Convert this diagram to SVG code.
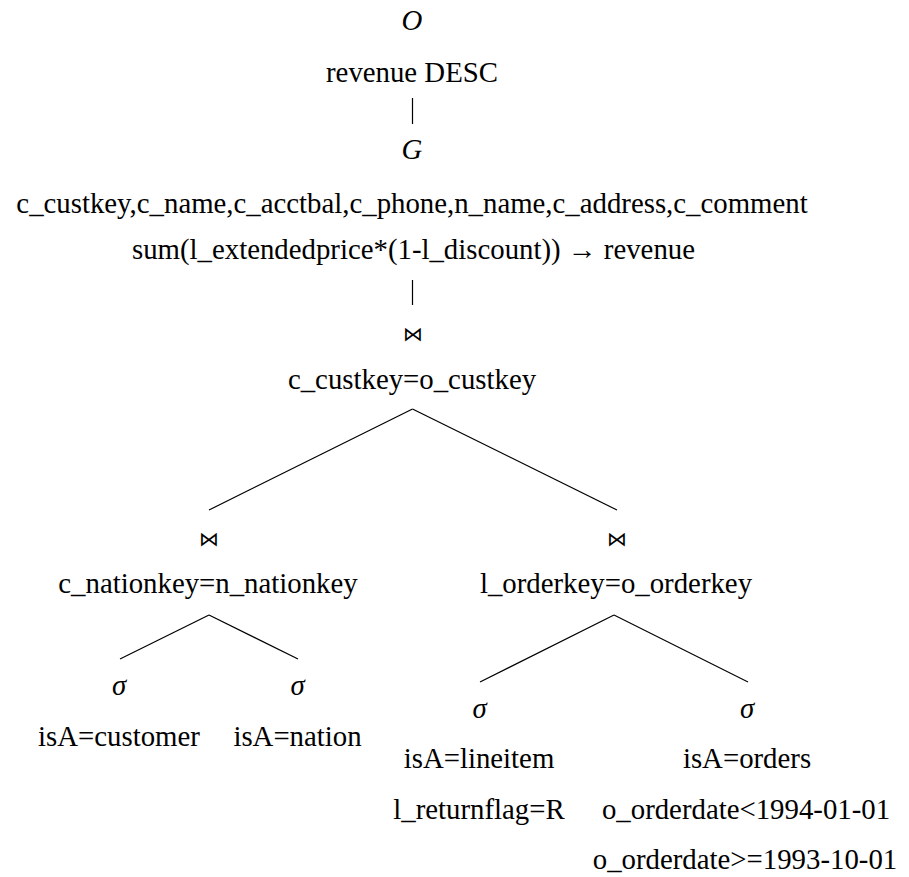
<svg xmlns="http://www.w3.org/2000/svg" width="909" height="877" viewBox="0 0 909 877">
<style>
.t{font-family:'Liberation Serif','Times New Roman',serif;font-size:28.8px;fill:#000;text-anchor:middle}
.it{font-style:italic}
.join{font-family:'DejaVu Sans',sans-serif;font-size:20px}
.edge{stroke:#000;stroke-width:1.2;fill:none}
</style>
<rect width="909" height="877" fill="#fff"/>
<g id="connectors">
<line class="edge" x1="412.5" y1="98" x2="412.5" y2="124"/>
<line class="edge" x1="412.5" y1="280" x2="412.5" y2="305"/>
<line class="edge" x1="412.5" y1="409" x2="209" y2="510"/>
<line class="edge" x1="412.5" y1="409" x2="617" y2="510"/>
<line class="edge" x1="209" y1="615" x2="120" y2="659"/>
<line class="edge" x1="209" y1="615" x2="298" y2="659"/>
<line class="edge" x1="614" y1="615" x2="480" y2="682"/>
<line class="edge" x1="614" y1="615" x2="748" y2="682"/>
</g>
<g id="order">
<text class="t it" x="412" y="30">O</text>
<text class="t" x="412" y="82">revenue DESC</text>
</g>
<g id="group">
<text class="t it" x="412" y="159">G</text>
<text class="t" x="412" y="213">c_custkey,c_name,c_acctbal,c_phone,n_name,c_address,c_comment</text>
<text class="t" x="413.5" y="259">sum(l_extendedprice*(1-l_discount)) → revenue</text>
</g>
<g id="join1">
<text class="t join" x="413" y="341">⋈</text>
<text class="t" x="412" y="389">c_custkey=o_custkey</text>
</g>
<g id="join2">
<text class="t join" x="209" y="546">⋈</text>
<text class="t" x="208" y="593">c_nationkey=n_nationkey</text>
</g>
<g id="join3">
<text class="t join" x="617" y="546">⋈</text>
<text class="t" x="616" y="593">l_orderkey=o_orderkey</text>
</g>
<g id="sel-customer">
<text class="t it" x="119" y="695">σ</text>
<text class="t" x="119" y="746">isA=customer</text>
</g>
<g id="sel-nation">
<text class="t it" x="297.5" y="695">σ</text>
<text class="t" x="297.5" y="746">isA=nation</text>
</g>
<g id="sel-lineitem">
<text class="t it" x="479.5" y="718">σ</text>
<text class="t" x="479" y="768">isA=lineitem</text>
<text class="t" x="479" y="819">l_returnflag=R</text>
</g>
<g id="sel-orders">
<text class="t it" x="747" y="718">σ</text>
<text class="t" x="747" y="768">isA=orders</text>
<text class="t" x="746" y="819">o_orderdate&lt;1994-01-01</text>
<text class="t" x="745" y="869">o_orderdate&gt;=1993-10-01</text>
</g>
</svg>
